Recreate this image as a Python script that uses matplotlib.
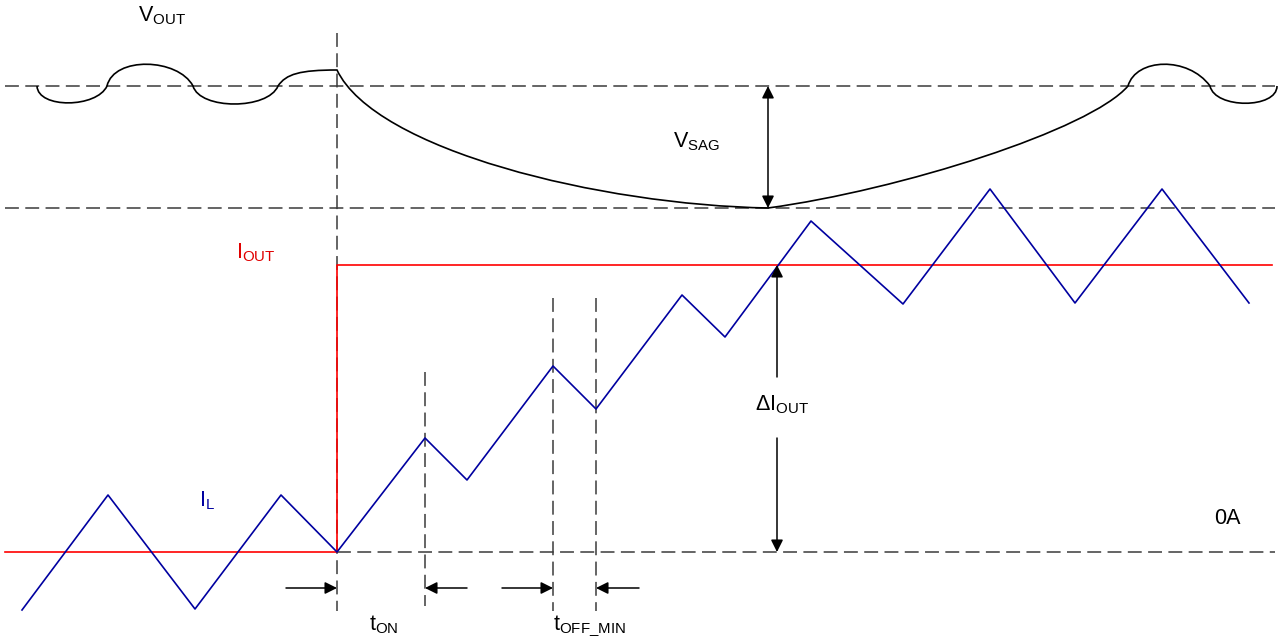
#!/usr/bin/env python3
"""Load-step waveform sketch: V_OUT sag, I_OUT step, inductor current I_L ramp.

Whole figure is one axes in pixel units (x right, y down) so the
positions can be read straight off the reference picture.
"""

import matplotlib

matplotlib.use("Agg")
import matplotlib.pyplot as plt
from matplotlib.path import Path
from matplotlib.patches import PathPatch

W, H = 1281, 639

plt.rcParams["font.family"] = ["Liberation Sans", "DejaVu Sans"]
plt.rcParams["mathtext.fontset"] = "custom"
plt.rcParams["mathtext.rm"] = "Liberation Sans"
plt.rcParams["lines.scale_dashes"] = False

BLUE = "#0000A0"
RED = "#FF0000"
GREY = "#3A3A3A"
DASH = (0, (10.0, 4.6))

# inductor current I_L (time, level)
IL_T = [22, 108, 195, 281, 337, 425, 467, 553, 596, 682, 725, 811, 903, 990, 1075, 1162, 1249]
IL_I = [610, 495, 609, 495, 552, 438, 480, 366, 409, 295, 337, 221, 304, 189, 303, 189, 303]

# load current step I_OUT
IOUT_T = [5, 337, 337, 1272]
IOUT_I = [552, 552, 265, 265]

# V_OUT drawn as cubic bezier pieces: start point then 3 points per piece
VOUT_X = [37,
          38, 97, 107,
          114, 178, 193,
          200, 268, 278,
          286, 300, 337,
          375, 600, 768,
          900, 1090, 1128,
          1136, 1188, 1210,
          1215, 1277, 1277]
VOUT_Y = [86,
          109, 108, 86,
          56, 58, 86,
          110, 110, 86,
          74, 70, 70,
          150, 205, 208,
          190, 130, 86,
          58, 56, 86,
          109, 109, 86]

# reference levels
V_NOM, V_MIN, I_ZERO, I_STEP = 86, 208, 552, 265
T_STEP = 337
T_ON_END, T_OFF_A, T_OFF_B = 425, 553, 596


def dashed(ax, xs, ys):
    ax.plot(xs, ys, color=GREY, lw=1.1, linestyle=DASH, zorder=1)


def arrow(ax, tail, tip, style="-|>"):
    ax.annotate("", xy=tip, xytext=tail,
                arrowprops=dict(arrowstyle=f"{style},head_length=0.5,head_width=0.25",
                                color="black", lw=1.1, mutation_scale=14.5,
                                shrinkA=0, shrinkB=0), zorder=4)


def label(ax, x, y, text, color="black"):
    ax.text(x, y, text, ha="left", va="baseline", fontsize=15.5, color=color)


def main():
    fig = plt.figure(figsize=(W / 100, H / 100), dpi=100)
    ax = fig.add_axes([0, 0, 1, 1])
    ax.set_xlim(0, W)
    ax.set_ylim(H, 0)
    ax.axis("off")

    # guide lines
    dashed(ax, [5, 1275], [V_NOM, V_NOM])
    dashed(ax, [5, 1275], [V_MIN, V_MIN])
    dashed(ax, [T_STEP, 1275], [I_ZERO, I_ZERO])
    dashed(ax, [T_STEP, T_STEP], [33, 611])
    dashed(ax, [T_ON_END, T_ON_END], [372, 606])
    dashed(ax, [T_OFF_A, T_OFF_A], [298, 611])
    dashed(ax, [T_OFF_B, T_OFF_B], [298, 611])

    # V_OUT
    codes = [Path.MOVETO] + [Path.CURVE4] * (len(VOUT_X) - 1)
    ax.add_patch(PathPatch(Path(list(zip(VOUT_X, VOUT_Y)), codes),
                           facecolor="none", edgecolor="black", lw=1.2, zorder=3))

    # currents
    ax.plot(IOUT_T, IOUT_I, color=RED, lw=1.2, zorder=2)
    ax.plot(IL_T, IL_I, color=BLUE, lw=1.2, zorder=3)

    # V_SAG and delta I_OUT
    arrow(ax, (768, V_NOM), (768, V_MIN), style="<|-|>")
    arrow(ax, (777, 377), (777, I_STEP))
    arrow(ax, (777, 438), (777, I_ZERO))

    # timing arrows
    arrow(ax, (286, 588), (T_STEP, 588))
    arrow(ax, (467, 588), (T_ON_END, 588))
    arrow(ax, (502, 588), (T_OFF_A, 588))
    arrow(ax, (639, 588), (T_OFF_B, 588))

    label(ax, 138, 21, r"$\mathrm{V_{OUT}}$")
    label(ax, 673, 147, r"$\mathrm{V_{SAG}}$")
    label(ax, 236, 258, r"$\mathrm{I_{OUT}}$", color="#E00000")
    label(ax, 755, 410, r"$\Delta\mathrm{I_{OUT}}$")
    label(ax, 199, 506, r"$\mathrm{I_{L}}$", color=BLUE)
    label(ax, 1214, 524, "0A")
    label(ax, 369, 630, r"$\mathrm{t_{ON}}$")
    label(ax, 553, 630, r"$\mathrm{t_{OFF\_MIN}}$")

    fig.savefig("out.png", dpi=100)


if __name__ == "__main__":
    main()
